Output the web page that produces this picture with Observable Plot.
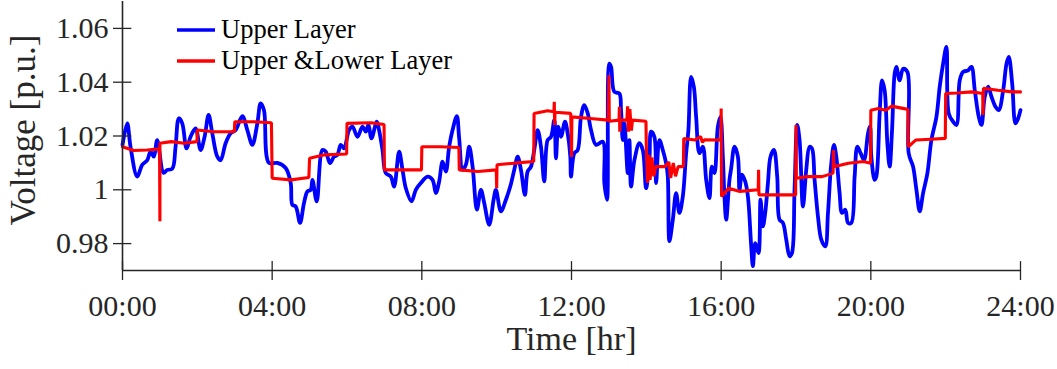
<!DOCTYPE html>
<html>
<head>
<meta charset="utf-8">
<script src="https://cdn.jsdelivr.net/npm/d3@7"></script>
<script src="https://cdn.jsdelivr.net/npm/@observablehq/plot@0.6"></script>
<style>
  html, body { margin: 0; padding: 0; background: #fff; }
  #wrap { position: relative; width: 1057px; height: 369px; font-family: "Liberation Serif", "Times New Roman", serif; }
  #legend { position: absolute; left: 176px; top: 14px; font-size: 26.5px; color: #000; }
  #legend .row { display: flex; align-items: center; height: 31px; }
  #legend svg { margin-right: 5px; }
</style>
</head>
<body>
<div id="wrap">
  <div id="chart"></div>
  <div id="legend"></div>
</div>
<script>
// ---- data (hours, p.u.) ----
const xTicks = [0, 4, 8, 12, 16, 20, 24];
const xTickLabels = ["00:00", "04:00", "08:00", "12:00", "16:00", "20:00", "24:00"];
const yTicks = [0.98, 1.0, 1.02, 1.04, 1.06];
const yTickLabels = ["0.98", "1", "1.02", "1.04", "1.06"];
const seriesNames = ["Upper Layer", "Upper &Lower Layer"];
const seriesColors = ["#0000ff", "#ff0000"];

const upperHours = [0,0.126,0.214,0.393,0.527,0.661,0.749,0.837,0.928,1.097,1.196,1.33,1.418,1.506,1.597,1.712,1.819,1.953,2.087,2.194,2.301,2.4,2.534,2.622,2.756,2.89,3.023,3.203,3.336,3.47,3.604,3.692,3.781,3.914,
4.139,4.361,4.495,4.54,4.629,4.744,4.851,4.942,5.03,5.076,5.191,5.343,5.431,5.546,5.654,5.745,5.833,5.921,6.055,6.146,6.28,6.413,6.502,6.574,6.654,6.796,6.857,6.949,7.037,7.171,7.259,7.393,7.484,7.572,7.724,7.839,7.973,
8.152,8.286,8.375,8.463,8.554,8.642,8.73,8.821,8.936,8.998,9.089,9.177,9.266,9.357,9.472,9.579,9.667,9.801,9.918,9.98,10.114,10.247,10.363,10.47,10.561,10.649,10.756,10.828,10.916,11.005,11.096,11.184,11.272,11.363,11.452,11.54,11.585,11.647,11.719,11.826,11.898,11.968,
11.987,12.075,12.166,12.254,12.343,12.434,12.522,12.656,12.835,12.878,12.95,13.011,13.057,13.145,13.279,13.324,13.37,13.413,13.504,13.547,13.592,13.681,13.814,13.905,13.993,14.082,14.127,14.215,14.261,14.349,14.44,14.528,14.574,14.617,14.708,14.796,14.884,14.975,15.064,15.125,15.197,15.27,15.331,15.42,15.511,15.599,15.687,15.751,15.821,15.912,15.981,
16.045,16.088,16.134,16.222,16.268,16.356,16.447,16.49,16.554,16.642,16.715,16.803,16.848,16.91,16.998,17.052,17.116,17.177,17.25,17.319,17.41,17.498,17.56,17.651,17.739,17.828,17.892,17.961,18.033,18.095,18.186,18.274,18.363,18.427,18.497,18.587,18.676,18.783,18.855,18.943,19.015,19.077,19.165,19.23,19.318,19.39,19.478,19.567,19.639,19.727,19.818,19.925,19.979,
20.013,20.102,20.147,20.236,20.3,20.369,20.442,20.503,20.567,20.637,20.682,20.771,20.862,20.977,21.012,21.129,21.218,21.306,21.397,21.512,21.619,21.753,21.841,21.932,22.02,22.082,22.199,22.288,22.376,22.467,22.601,22.689,22.778,22.885,22.957,23.045,23.136,23.224,23.331,23.419,23.537,23.626,23.687,23.778,23.866,23.938,24];
const upperValues = [1.0167,1.0247,1.016,1.0049,1.0093,1.011,1.0142,1.0123,1.0185,1.0063,1.0074,1.0078,1.016,1.0266,1.0247,1.0154,1.0197,1.0228,1.0148,1.0197,1.0278,1.021,1.0123,1.011,1.0173,1.021,1.0222,1.0274,1.0222,1.0167,1.0247,1.0321,1.0296,1.01,
1.010,1.0081,1.0026,0.9944,0.9938,0.9877,0.9951,0.9994,1.0,1.0037,0.9957,1.0148,1.0142,1.0099,1.0123,1.013,1.0167,1.0154,1.0222,1.0235,1.0197,1.0235,1.0216,1.0241,1.0191,1.0253,1.0222,1.0148,1.0062,1.0049,1.0012,1.0142,1.0074,1.0006,0.9957,1.0,1.0025,
1.0049,1.0037,0.9988,1.0031,1.0105,1.0068,1.016,1.0222,1.0274,1.0191,1.0074,1.0093,1.016,1.0086,0.9926,1.0,0.9951,0.987,0.9963,1.0,0.992,0.9963,1.0012,1.0074,1.0123,1.0074,0.9981,1.0068,1.0086,1.0148,1.0222,1.016,1.0031,1.0185,1.0197,1.0259,1.0117,1.0235,1.0197,1.0253,1.021,1.0123,
1.0049,1.0136,1.0148,1.0271,1.0315,1.0284,1.0222,1.0167,1.0179,1.0025,0.9963,1.0469,1.0457,1.0364,1.0358,1.0296,1.0185,1.0247,1.0062,1.0185,1.0012,1.011,1.0173,1.0148,1.0006,1.011,1.0216,1.0197,1.0025,1.0185,1.0148,1.0099,1.0049,0.9809,0.9889,0.9988,0.9914,0.9975,1.0136,1.0222,1.042,1.0383,1.0271,1.0136,1.016,1.0037,0.9969,1.0086,1.0062,1.0235,1.0271,
1.0123,0.9975,0.9889,1.0037,1.008,1.016,1.0123,1.0,1.0056,1.0031,0.9975,0.979,0.9716,0.9802,0.9765,0.9963,0.9864,0.9914,1.0025,1.0123,1.0148,1.0049,0.9889,0.9877,0.9815,0.9753,0.9765,1.0,1.0241,1.0185,0.9938,1.0074,1.016,1.0154,1.0037,0.9901,0.9815,0.979,0.9914,1.0099,1.0167,1.0123,0.9988,0.9914,0.9926,0.9877,0.9877,1.0049,1.016,1.0136,1.011,1.021,1.0235,
1.0123,1.0037,1.0049,1.0284,1.0407,1.037,1.0173,1.0086,1.0222,1.0432,1.0457,1.0407,1.045,1.0438,1.0136,1.0086,1.0,0.992,0.9988,1.0062,1.0185,1.0271,1.0383,1.0469,1.0531,1.0284,1.0253,1.0241,1.0407,1.0438,1.0444,1.0457,1.037,1.0271,1.0241,1.0346,1.0383,1.0346,1.0309,1.0296,1.037,1.0469,1.0494,1.0395,1.0247,1.0266,1.0296];

const bothHours = [0,0.3,0.66,0.99,1.0,1.0,1.3,1.65,1.99,2.0,2.43,2.99,3.0,3.5,3.98,4.0,4.5,4.98,5.0,5.4,5.99,6.0,6.64,6.99,7.0,7.5,7.99,8.0,8.5,8.99,9.0,9.5,9.99,10.0,10.01,10.47,10.99,11.0,11.36,11.53,11.54,11.55,11.56,11.98,12.0,12.01,12.5,12.98,13.0,13.01,13.27,13.28,13.29,13.3,13.48,13.5,13.52,13.56,13.6,13.63,13.99,14.0,14.03,14.07,14.1,14.15,14.2,14.25,14.5,14.6,14.65,14.72,14.78,14.85,14.99,15.0,15.3,15.45,15.5,15.55,15.99,16.0,16.01,16.2,16.5,16.99,17.0,17.01,17.5,17.99,18.0,18.01,18.3,18.7,18.99,19.0,19.01,19.4,19.8,19.99,20.0,20.2,20.4,20.55,20.99,21.0,21.2,21.6,21.99,22.0,22.3,22.7,22.99,23.0,23.01,23.4,23.78,24];
const bothValues = [1.016,1.0146,1.0148,1.0152,0.9883,1.0173,1.0179,1.0173,1.0179,1.0222,1.0216,1.0216,1.0253,1.0253,1.0249,1.0043,1.0037,1.0046,1.0117,1.013,1.0133,1.0247,1.0249,1.0243,1.0074,1.0074,1.0074,1.016,1.016,1.0157,1.0074,1.0068,1.0074,1.0006,1.0093,1.0099,1.0105,1.0284,1.0294,1.029,1.0327,1.0241,1.0288,1.0284,1.0122,1.0271,1.0265,1.0259,1.0426,1.0255,1.0259,1.0309,1.0216,1.0259,1.0259,1.031,1.0216,1.03,1.022,1.0259,1.0255,1.016,1.0026,1.013,1.0037,1.012,1.005,1.0086,1.0086,1.0104,1.0044,1.01,1.005,1.0086,1.0086,1.0191,1.0185,1.0198,1.0176,1.0186,1.0185,1.0302,0.9975,1.0006,0.9994,1.0,1.0074,0.9981,0.9981,0.9981,1.0241,1.0043,1.0049,1.0049,1.0062,1.0148,1.0086,1.0099,1.0105,1.0099,1.0296,1.0302,1.0296,1.0311,1.0299,1.016,1.0185,1.0188,1.0191,1.0358,1.036,1.0364,1.0358,1.0278,1.0377,1.037,1.0364,1.0364];

const upper = upperHours.map((h, i) => ({h, v: upperValues[i]}));
const both = bothHours.map((h, i) => ({h, v: bothValues[i]}));

const axisColor = "#262626";

const chart = Plot.plot({
  width: 1057,
  height: 369,
  marginLeft: 122,
  marginRight: 37,
  marginTop: 1,
  marginBottom: 99,
  style: {fontFamily: "'Liberation Serif', 'Times New Roman', serif", fontSize: "30px", color: axisColor, background: "#fff", overflow: "visible"},
  x: {domain: [0, 24]},
  y: {domain: [0.97, 1.07]},
  marks: [
    Plot.line(upper, {x: "h", y: "v", stroke: seriesColors[0], strokeWidth: 3.8, curve: "catmull-rom", strokeLinejoin: "round"}),
    Plot.line(both, {x: "h", y: "v", stroke: seriesColors[1], strokeWidth: 3.1, strokeLinejoin: "miter"}),
    Plot.ruleX([0], {stroke: axisColor, strokeWidth: 1.6}),
    Plot.ruleY([0.97], {stroke: axisColor, strokeWidth: 1.6}),
    // inward tick halves
    Plot.ruleX(xTicks, {y1: 0.97, y2: 0.9733, stroke: axisColor, strokeWidth: 1.3}),
    Plot.ruleY(yTicks, {x1: 0, x2: 0.25, stroke: axisColor, strokeWidth: 1.3}),
    Plot.axisX({ticks: xTicks, tickFormat: (d) => xTickLabels[xTicks.indexOf(d)], tickSize: 10, tickPadding: 14, strokeWidth: 1.3, stroke: axisColor, fill: axisColor,
      label: null, fontSize: 30}),
    Plot.axisY({ticks: yTicks, tickFormat: (d) => yTickLabels[yTicks.indexOf(d)], tickSize: 9, tickPadding: 5, strokeWidth: 1.3, stroke: axisColor, fill: axisColor,
      label: null, fontSize: 30}),
    Plot.text(["Time [hr]"], {frameAnchor: "bottom", dy: 79, fontSize: 34, fill: axisColor}),
    Plot.text(["Voltage [p.u.]"], {frameAnchor: "left", textAnchor: "middle", rotate: -90, dx: -99, dy: -6, fontSize: 35, fill: axisColor})
  ]
});
document.getElementById("chart").appendChild(chart);

// legend
const legend = document.getElementById("legend");
seriesNames.forEach((name, i) => {
  const row = document.createElement("div");
  row.className = "row";
  row.innerHTML = `<svg width="40" height="10"><line x1="1" y1="5" x2="39" y2="5" stroke="${seriesColors[i]}" stroke-width="3.5"/></svg><span>${name.replace("&", "&amp;")}</span>`;
  legend.appendChild(row);
});
</script>
</body>
</html>
